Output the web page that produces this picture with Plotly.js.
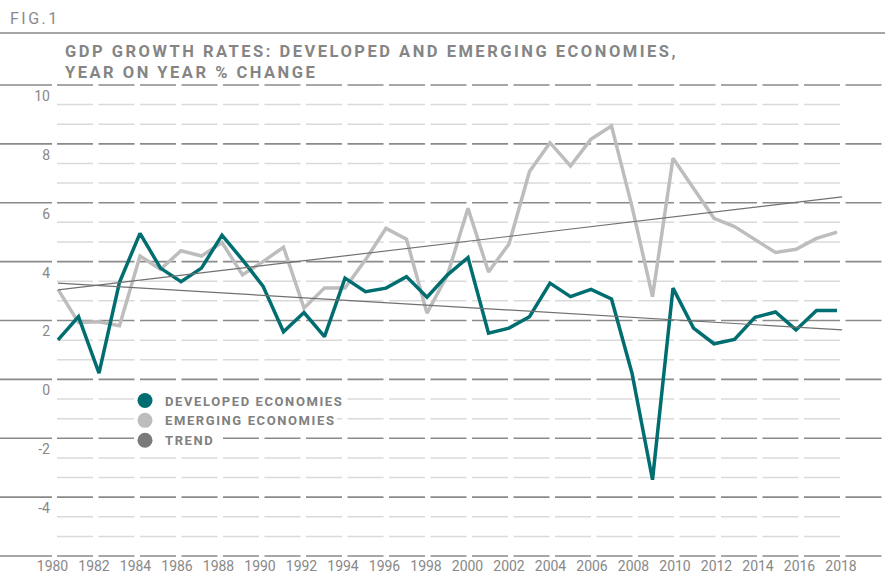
<!DOCTYPE html>
<html>
<head>
<meta charset="utf-8">
<script src="https://cdn.plot.ly/plotly-3.0.1.min.js"></script>
<style>
html,body{margin:0;padding:0;background:#fff;}
#chart{width:885px;height:573px;}
.gtitle{letter-spacing:2.5px;}
.legendtext{letter-spacing:1.6px;}
.annotation-text{letter-spacing:2.5px;}
</style>
</head>
<body>
<div id="chart"></div>
<script>
// ---- data ----
const years = [1980,1981,1982,1983,1984,1985,1986,1987,1988,1989,1990,1991,1992,1993,1994,1995,1996,1997,1998,1999,2000,2001,2002,2003,2004,2005,2006,2007,2008,2009,2010,2011,2012,2013,2014,2015,2016,2017,2018];
const developed = [1.34,2.13,0.21,3.3,4.96,3.78,3.32,3.78,4.9,4.06,3.17,1.62,2.27,1.45,3.44,2.98,3.1,3.49,2.79,3.55,4.14,1.57,1.74,2.13,3.27,2.81,3.06,2.73,0.21,-3.41,3.1,1.74,1.21,1.36,2.11,2.29,1.68,2.34,2.34];
const emerging = [3.06,1.93,1.96,1.82,4.19,3.74,4.37,4.19,4.65,3.55,4.0,4.49,2.42,3.1,3.1,4.06,5.13,4.76,2.25,3.55,5.81,3.65,4.6,7.06,8.04,7.25,8.16,8.61,5.87,2.81,7.51,6.49,5.47,5.19,4.74,4.31,4.42,4.79,5.0];
const trendYears = [1980, 2018.25];
const developedTrend = [3.27, 1.68];
const emergingTrend = [3.04, 6.2];
const seriesNames = ['DEVELOPED ECONOMIES','EMERGING ECONOMIES','TREND'];
const xLabelYears = [1980,1982,1984,1986,1988,1990,1992,1994,1996,1998,2000,2002,2004,2006,2008,2010,2012,2014,2016,2018];
const yTickVals = [10,8,6,4,2,0,-2,-4];
const majorGridVals = [10,8,6,4,2,0,-2,-4,-6];
const titleLines = ['GDP GROWTH RATES: DEVELOPED AND EMERGING ECONOMIES,','YEAR ON YEAR % CHANGE'];
const figLabel = 'FIG.1';

// ---- styles ----
const TEAL = '#006e70', LIGHT = '#bdbdbd', TREND = '#707070';
const W = 885, H = 573, ML = 48, MR = 39, MT = 84, MB = 16;
const PW = W - ML - MR, PH = H - MT - MB;
const px2x = p => (p - ML) / PW;
const px2y = p => (H - MB - p) / PH;
const font = 'Roboto, "Liberation Sans", sans-serif';

const traces = [
  {x: years, y: emerging, mode: 'lines', line: {color: LIGHT, width: 3.5}, showlegend: false, hoverinfo: 'skip'},
  {x: years, y: developed, mode: 'lines', line: {color: TEAL, width: 3.5}, showlegend: false, hoverinfo: 'skip'},
  {x: trendYears, y: developedTrend, mode: 'lines', line: {color: TREND, width: 1.2}, showlegend: false, hoverinfo: 'skip'},
  {x: trendYears, y: emergingTrend, mode: 'lines', line: {color: TREND, width: 1.2}, showlegend: false, hoverinfo: 'skip'},
  // legend swatches (no data points); they live on the label axis x2
  {x: [null], y: [null], xaxis: 'x2', mode: 'markers', name: seriesNames[0], marker: {color: TEAL, size: 15}},
  {x: [null], y: [null], xaxis: 'x2', mode: 'markers', name: seriesNames[1], marker: {color: LIGHT, size: 15}},
  {x: [null], y: [null], xaxis: 'x2', mode: 'markers', name: seriesNames[2], marker: {color: '#7a7a7a', size: 15}}
];

const shapes = [];
// full-width top rule under FIG.1
shapes.push({type:'line', xref:'paper', yref:'paper', x0: px2x(0), x1: px2x(W), y0: px2y(33), y1: px2y(33), line:{color:'#a6a6a6', width:2}});
// light minor grid, two lines between each pair of major lines
const minorGridVals = [];
for (let i = 0; i < majorGridVals.length - 1; i++) {
  const a = majorGridVals[i], b = majorGridVals[i + 1];
  minorGridVals.push(a + (b - a) / 3, a + 2 * (b - a) / 3);
}
minorGridVals.forEach(v => {
  shapes.push({type:'line', xref:'paper', yref:'y', x0: px2x(57), x1: px2x(840), y0: v, y1: v, layer:'between', line:{color:'#dadada', width:1.5, dash:'36px,5.5px'}});
});
// darker major grid running the full width
majorGridVals.forEach(v => {
  shapes.push({type:'line', xref:'paper', yref:'y', x0: px2x(0), x1: px2x(52), y0: v, y1: v, layer:'between', line:{color:'#8a8a8a', width:1.6}});
  shapes.push({type:'line', xref:'paper', yref:'y', x0: px2x(57), x1: px2x(W), y0: v, y1: v, layer:'between', line:{color:'#8a8a8a', width:1.6, dash:'36px,5.5px'}});
});
// white backing behind each legend entry
[[134,347,390,410],[134,337,410.5,430],[134,223,430.5,450]].forEach(r => {
  shapes.push({type:'rect', xref:'paper', yref:'paper', x0: px2x(r[0]), x1: px2x(r[1]), y0: px2y(r[3]), y1: px2y(r[2]), layer:'between', fillcolor:'#ffffff', line:{width:0}});
});

const layout = {
  width: W, height: H,
  margin: {l: ML, r: MR, t: MT, b: MB, pad: 0},
  paper_bgcolor: '#fff', plot_bgcolor: 'rgba(0,0,0,0)',
  font: {family: font, color: '#888'},
  title: {
    text: titleLines.join('<br>'),
    font: {family: font, size: 16.5, color: '#858585', weight: 700},
    xref: 'container', yref: 'container', x: 65 / W, xanchor: 'left', y: 1 - 57 / H, yanchor: 'top'
  },
  xaxis: {
    range: [1980 - 10 / 20.5, 2018 + 9 / 20.5],
    showgrid: false, zeroline: false, showline: false, showticklabels: false, ticks: ''
  },
  xaxis2: {
    overlaying: 'x', anchor: 'y', side: 'bottom',
    range: [1980 - 4.5 / 20.75, 2018 + 5 / 20.75],
    tickmode: 'array', tickvals: xLabelYears, ticktext: xLabelYears.map(String),
    showgrid: false, zeroline: false, showline: false, ticks: '',
    tickfont: {family: font, size: 14, color: '#888'}, ticklabelstandoff: -1
  },
  yaxis: {
    range: [-6 - 1 / 29.44, 10 + 1 / 29.44],
    tickmode: 'array', tickvals: yTickVals, ticktext: yTickVals.map(String),
    showgrid: false, zeroline: false, showline: false, ticks: '',
    tickfont: {family: font, size: 14, color: '#888'},
    ticklabelshift: 11, ticklabelstandoff: -3
  },
  showlegend: true,
  legend: {
    x: px2x(125), xanchor: 'left', y: px2y(385.5), yanchor: 'top',
    bgcolor: 'rgba(0,0,0,0)', borderwidth: 0, traceorder: 'normal',
    font: {family: font, size: 13, color: '#808080', weight: 700}
  },
  annotations: [{
    text: figLabel, xref: 'paper', yref: 'paper', x: px2x(8), y: px2y(18.5),
    xanchor: 'left', yanchor: 'middle', showarrow: false,
    font: {family: font, size: 16, color: '#8a8a8a'}
  }],
  shapes: shapes
};

Plotly.newPlot('chart', traces, layout, {displayModeBar: false, staticPlot: true});
</script>
</body>
</html>
